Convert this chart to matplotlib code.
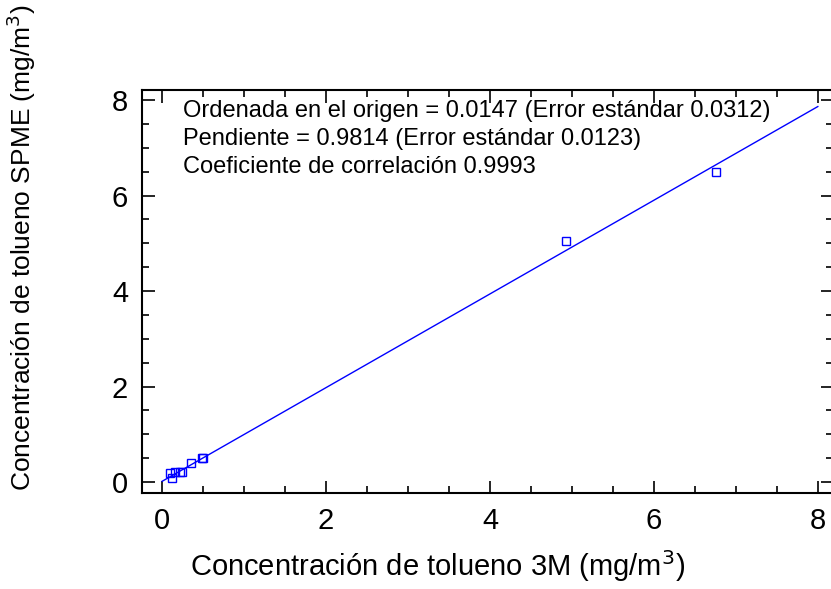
import matplotlib
matplotlib.use("Agg")
import matplotlib.pyplot as plt
from matplotlib.ticker import MultipleLocator

# Concentraciones medidas con el monitor 3M y con SPME (mg/m3)
conc_3m = [0.10, 0.12, 0.16, 0.22, 0.24, 0.35, 0.49, 0.50, 4.93, 6.76]
conc_spme = [0.19, 0.08, 0.21, 0.21, 0.22, 0.40, 0.50, 0.51, 5.05, 6.49]

# Recta de regresión
ordenada = 0.0147
pendiente = 0.9814
recta_x = [0.0, 8.0]
recta_y = [ordenada + pendiente * v for v in recta_x]

plt.rcParams['font.family'] = ['Liberation Sans', 'DejaVu Sans']

fig = plt.figure(figsize=(8.31, 5.89), dpi=100)
ax = fig.add_axes([0.1709, 0.163, 0.831, 0.684])

ax.plot(recta_x, recta_y, color='blue', linewidth=1)
ax.plot(conc_3m, conc_spme, linestyle='none', marker='s', markersize=6,
        markerfacecolor='none', markeredgecolor='blue', markeredgewidth=1)

ax.set_xlim(-0.245, 8.18)
ax.set_ylim(-0.23, 8.21)
ax.xaxis.set_major_locator(MultipleLocator(2))
ax.xaxis.set_minor_locator(MultipleLocator(0.5))
ax.yaxis.set_major_locator(MultipleLocator(2))
ax.yaxis.set_minor_locator(MultipleLocator(0.5))
ax.tick_params(which='both', direction='in', top=True, right=True,
               labelsize=21, width=1.2)
ax.tick_params(which='major', length=9, pad=10)
ax.tick_params(which='minor', length=5)
for s in ax.spines.values():
    s.set_linewidth(1.5)

ax.set_xlabel('Concentración de tolueno 3M (mg/m$^3$)', fontsize=21)
ax.set_ylabel('Concentración de tolueno SPME (mg/m$^3$)', fontsize=19)
ax.xaxis.set_label_coords(0.428, -0.136)
ax.yaxis.set_label_coords(-0.15, 0.608)

texto = ('Ordenada en el origen = 0.0147 (Error estándar 0.0312)\n'
         'Pendiente = 0.9814 (Error estándar 0.0123)\n'
         'Coeficiente de correlación 0.9993')
ax.text(0.059, 0.975, texto, transform=ax.transAxes, fontsize=17,
        va='top', ha='left', linespacing=1.34)

fig.savefig('out.png', dpi=100)
